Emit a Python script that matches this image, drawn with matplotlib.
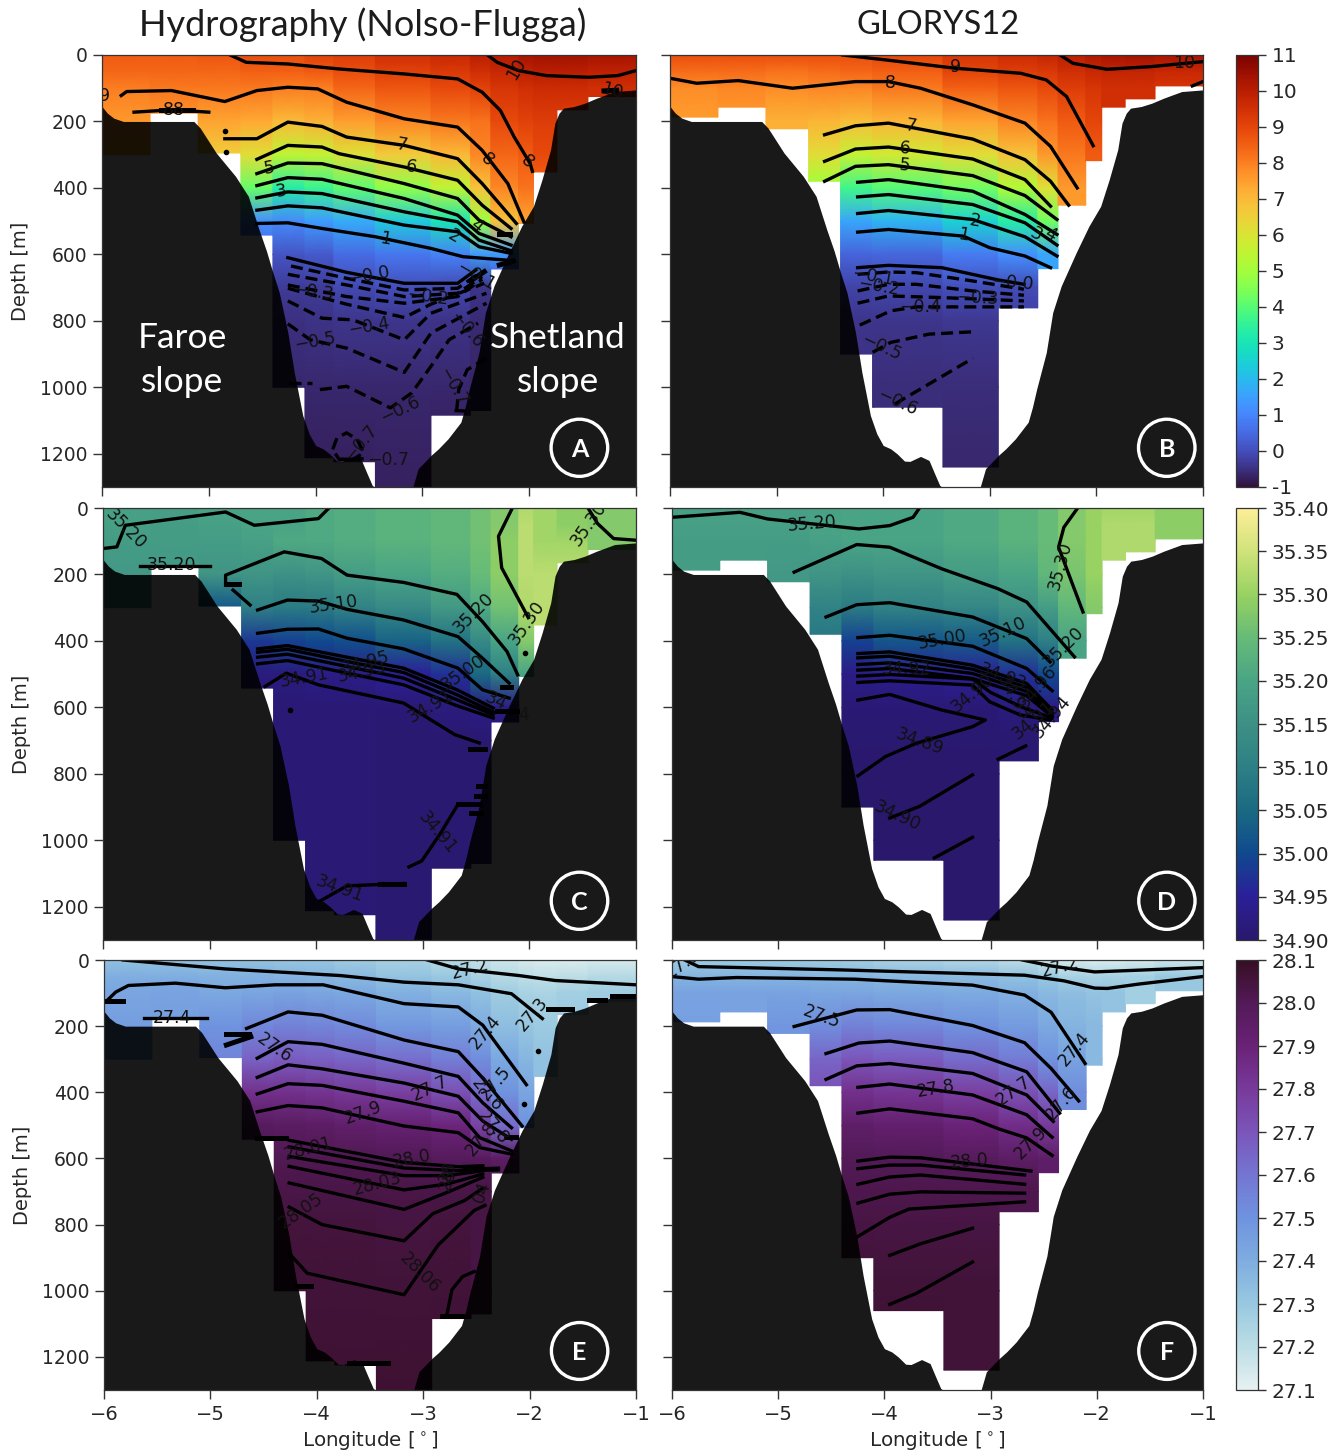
import numpy as np
import matplotlib
matplotlib.use('Agg')
import matplotlib.pyplot as plt
from matplotlib.colors import LinearSegmentedColormap, Normalize
from matplotlib.cm import ScalarMappable
from matplotlib.patches import Ellipse

W, H = 1340, 1454

# depth levels the column tables are read at
levels = [0, 50, 100, 200, 300, 400, 500, 600, 700, 800, 1000, 1300]

# model columns: edges in longitude, bottom depth of each column
hyd_edges = [-6, -5.55, -5.1, -4.7, -4.4, -4.1, -3.83, -3.44, -2.92, -2.55, -2.36, -2.1, -1.96, -1.74, -1.45, -1]
hyd_bottom = [300, 175, 295, 542, 1000, 1212, 1224, 1300, 1084, 1070, 644, 507, 352, 165, 125]
gly_edges = [-6, -5.55, -5.1, -4.7, -4.4, -4.1, -3.44, -2.92, -2.55, -2.36, -2.1, -1.95, -1.73, -1.45, -1]
gly_bottom = [187, 157, 222, 380, 900, 1060, 1240, 761, 643, 452, 318, 157, 132, 93]

# bathymetry
bathy_left_lon = [-6, -5.95, -5.89, -5.8, -5.14, -5.08, -5.0, -4.93, -4.84, -4.75, -4.63, -4.53, -4.46, -4.4, -4.34, -4.26, -4.2,
                  -4.12, -4.06, -4.0, -3.93, -3.87, -3.8, -3.75, -3.65, -3.57, -3.52, -3.47, -3.45]
bathy_left_dep = [155, 175, 190, 200, 200, 220, 260, 295, 330, 365, 425, 525, 590, 655, 715, 835, 955,
                  1085, 1140, 1175, 1185, 1200, 1222, 1223, 1208, 1220, 1258, 1295, 1300]
bathy_right_lon = [-3.09, -3.04, -2.92, -2.85, -2.76, -2.64, -2.6, -2.56, -2.47, -2.41, -2.33, -2.26, -2.19, -2.07, -1.96, -1.88, -1.8,
                   -1.76, -1.72, -1.68, -1.58, -1.48, -1.37, -1.2, -1]
bathy_right_dep = [1300, 1245, 1205, 1185, 1155, 1105, 1060, 1005, 895, 775, 695, 645, 595, 515, 455, 375, 285,
                   205, 175, 160, 155, 145, 130, 110, 105]

# temperature, one row per column, short rows keep the last value
temp_hyd = [
    [8.6, 8.4, 8.0, 7.6, 7.4],
    [8.6, 8.4, 8.1, 7.7, 7.5],
    [8.7, 8.4, 8.1, 7.4, 6.6],
    [8.8, 8.5, 8.1, 7.3, 6.2, 4.2, 1.2, 0.3, -0.2, -0.4, -0.6, -0.7],
    [8.8, 8.5, 8.0, 7.0, 5.5, 3.3, 1.1, 0.1, -0.3, -0.5, -0.65, -0.75],
    [9.1, 8.6, 8.0, 7.2, 5.6, 3.6, 1.4, 0.2, -0.3, -0.45, -0.65, -0.75],
    [9.2, 8.8, 8.4, 7.5, 6.1, 4.1, 1.7, 0.5, -0.1, -0.4, -0.65, -0.75],
    [9.5, 9.1, 8.7, 7.9, 6.6, 4.7, 2.3, 0.7, 0.0, -0.4, -0.65, -0.75],
    [9.7, 9.3, 8.9, 8.1, 7.05, 5.5, 3.0, 0.95, -0.1, -0.45, -0.65, -0.75],
    [10.0, 9.5, 9.1, 8.2, 7.9, 6.8, 4.9, 1.4, -0.4, -0.6, -0.7, -0.75],
    [10.1, 9.7, 9.4, 8.9, 8.4, 7.9, 6.8, 1.4, -0.5, -0.6, -0.7, -0.75],
    [10.3, 9.9, 9.5, 9.1, 8.6, 8.2, 7.4],
    [10.4, 10.0, 9.6, 9.2, 8.9, 8.4],
    [10.4, 10.0, 9.6, 9.2],
    [10.3, 9.9, 9.5],
]
temp_gly = [
    [8.8, 8.3, 7.8, 7.5],
    [8.8, 8.3, 7.9, 7.5],
    [8.8, 8.2, 7.8, 7.2],
    [8.8, 8.3, 7.9, 7.1, 6.2, 4.8],
    [8.8, 8.4, 7.9, 6.9, 5.6, 3.7, 1.6, 0.4, -0.2, -0.4, -0.5, -0.6],
    [9.0, 8.5, 8.1, 7.1, 5.8, 4.0, 1.9, 0.45, -0.15, -0.4, -0.55, -0.65],
    [9.4, 9.0, 8.5, 7.4, 6.2, 4.3, 2.5, 0.8, 0.0, -0.35, -0.55, -0.65],
    [9.6, 9.2, 8.7, 7.9, 6.8, 5.2, 3.3, 1.2, -0.05, -0.3],
    [9.8, 9.3, 8.9, 8.2, 7.6, 6.1, 4.3, 1.6],
    [10.0, 9.5, 9.2, 8.6, 8.1, 7.6],
    [10.2, 9.7, 9.4, 9.0, 8.6],
    [10.3, 9.8, 9.5],
    [10.4, 9.8, 9.5],
    [10.3, 9.7, 9.4],
]
# salinity
salt_hyd = [
    [35.19, 35.19, 35.18, 35.17, 35.17],
    [35.19, 35.18, 35.18, 35.17],
    [35.2, 35.19, 35.18, 35.16, 35.02],
    [35.2, 35.2, 35.19, 35.16, 35.1, 34.98, 34.92, 34.91],
    [35.2, 35.2, 35.21, 35.15, 35.09, 34.99, 34.92, 34.91],
    [35.21, 35.21, 35.21, 35.16, 35.09, 35.0, 34.93, 34.91],
    [35.22, 35.22, 35.22, 35.18, 35.11, 35.01, 34.93, 34.91],
    [35.23, 35.23, 35.23, 35.2, 35.13, 35.04, 34.95, 34.91, 34.905],
    [35.24, 35.24, 35.24, 35.22, 35.17, 35.07, 34.97, 34.92, 34.905],
    [35.26, 35.26, 35.26, 35.25, 35.21, 35.13, 35.05, 34.93, 34.905],
    [35.28, 35.28, 35.29, 35.29, 35.26, 35.2, 35.1, 34.93, 34.905],
    [35.32, 35.33, 35.33, 35.33, 35.32, 35.28, 35.2],
    [35.31, 35.31, 35.31, 35.33, 35.33],
    [35.29, 35.29, 35.31, 35.33],
    [35.28, 35.28],
]
salt_gly = [
    [35.19, 35.19, 35.18, 35.18],
    [35.19, 35.19, 35.18, 35.18],
    [35.19, 35.19, 35.18, 35.17],
    [35.19, 35.2, 35.19, 35.16, 35.11, 35.08],
    [35.2, 35.2, 35.2, 35.15, 35.09, 34.99, 34.93, 34.91, 34.905, 34.9],
    [35.2, 35.2, 35.2, 35.16, 35.11, 35.02, 34.94, 34.91, 34.905, 34.9],
    [35.21, 35.21, 35.21, 35.18, 35.12, 35.03, 34.95, 34.91, 34.905, 34.9],
    [35.23, 35.23, 35.23, 35.2, 35.15, 35.07, 34.97, 34.92, 34.905],
    [35.25, 35.25, 35.25, 35.24, 35.18, 35.1, 35.0, 34.93],
    [35.28, 35.28, 35.28, 35.27, 35.24, 35.2],
    [35.3, 35.3, 35.3, 35.3, 35.28],
    [35.31, 35.32, 35.32],
    [35.31, 35.32],
    [35.29, 35.29],
]
# density
dens_hyd = [
    [27.33, 27.4, 27.43, 27.46],
    [27.33, 27.4, 27.44, 27.46],
    [27.32, 27.39, 27.42, 27.5, 27.55],
    [27.32, 27.39, 27.43, 27.54, 27.66, 27.84, 27.98, 28.02, 28.03],
    [27.31, 27.38, 27.44, 27.56, 27.68, 27.84, 27.97, 28.01, 28.03, 28.05, 28.06, 28.07],
    [27.31, 27.37, 27.43, 27.55, 27.67, 27.83, 27.96, 28.01, 28.03, 28.05, 28.06, 28.07],
    [27.28, 27.36, 27.42, 27.53, 27.65, 27.81, 27.94, 28.01, 28.03, 28.05, 28.06, 28.07],
    [27.26, 27.32, 27.39, 27.48, 27.62, 27.78, 27.92, 28.005, 28.03, 28.045, 28.06, 28.07],
    [27.22, 27.3, 27.36, 27.46, 27.57, 27.72, 27.89, 27.99, 28.03, 28.05, 28.06, 28.07],
    [27.18, 27.26, 27.33, 27.41, 27.52, 27.63, 27.77, 27.98, 28.04],
    [27.16, 27.22, 27.28, 27.34, 27.42, 27.5, 27.63, 27.96, 28.04],
    [27.14, 27.2, 27.26, 27.31, 27.37, 27.43, 27.5],
    [27.13, 27.19, 27.25, 27.29, 27.33],
    [27.13, 27.2, 27.27, 27.3],
    [27.14, 27.22, 27.28],
]
dens_gly = [
    [27.28, 27.38, 27.44, 27.45],
    [27.28, 27.38, 27.44],
    [27.28, 27.38, 27.44, 27.49],
    [27.28, 27.37, 27.43, 27.52, 27.65, 27.72],
    [27.27, 27.37, 27.43, 27.56, 27.7, 27.84, 27.95, 28.0, 28.02, 28.04, 28.06, 28.07],
    [27.25, 27.36, 27.42, 27.54, 27.68, 27.82, 27.93, 28.0, 28.02, 28.04, 28.06, 28.07],
    [27.23, 27.35, 27.41, 27.51, 27.63, 27.78, 27.9, 27.98, 28.02, 28.04, 28.06],
    [27.2, 27.33, 27.39, 27.47, 27.58, 27.72, 27.85, 27.96, 28.02],
    [27.16, 27.3, 27.36, 27.42, 27.5, 27.65, 27.8, 27.95],
    [27.14, 27.26, 27.34, 27.38, 27.44, 27.52],
    [27.13, 27.25, 27.32, 27.36],
    [27.13, 27.26, 27.32],
    [27.14, 27.27],
    [27.16, 27.3],
]

# contour lines (lon, depth)
a_solid = [
    ([-4.8, -4.65, -4.26, -3.78, -3.17, -2.67, -2.44, -2.27, -2.14, -1.99, -1.97], [0, 22, 27, 42, 57, 72, 112, 167, 247, 327, 350]),
    ([-2.39, -2.3, -2.1, -1.84, -1.44, -1.17, -1], [0, 22, 47, 62, 67, 62, 47]),
    ([-5.82, -5.77, -5.35, -4.85, -4.55, -4.26, -3.98, -3.71, -3.17, -2.67, -2.44, -2.2, -2.05], [122, 110, 107, 140, 107, 97, 102, 142, 192, 217, 287, 387, 502]),
    ([-5.7, -5.35, -5.0], [172, 165, 172]),
    ([-4.85, -4.55, -4.26, -3.94, -3.71, -3.17, -2.67, -2.44, -2.12], [252, 252, 202, 215, 247, 272, 312, 387, 507]),
    ([-4.55, -4.26, -3.94, -3.78, -3.17, -2.67, -2.44, -2.17], [314, 272, 277, 297, 337, 377, 452, 522]),
    ([-4.55, -4.26, -3.94, -3.71, -3.17, -2.67, -2.47, -2.17], [357, 325, 327, 345, 387, 432, 497, 547]),
    ([-4.55, -4.26, -3.94, -3.17, -2.67, -2.47, -2.17], [393, 369, 374, 432, 482, 537, 572]),
    ([-4.55, -4.26, -3.94, -3.17, -2.67, -2.47, -2.17], [430, 412, 417, 472, 502, 557, 589]),
    ([-4.55, -4.26, -3.94, -3.17, -2.67, -2.47, -2.17], [467, 454, 460, 512, 532, 577, 597]),
    ([-4.55, -4.26, -3.94, -3.44, -2.92, -2.62, -2.22], [507, 505, 522, 547, 582, 607, 617]),
    ([-4.26, -3.71, -3.17, -2.67, -2.5], [610, 654, 687, 687, 647]),
]
a_thick = [([-1.3, -1.18], [108, 106]), ([-5.45, -5.15], [165, 165]), ([-2.28, -2.15], [632, 620]),
           ([-2.55, -2.42], [680, 652]), ([-2.28, -2.18], [540, 540])]
a_dashed = [
    ([-4.23, -3.71, -3.17, -2.67, -2.47], [635, 672, 707, 702, 657]),
    ([-4.26, -3.71, -3.17, -2.67, -2.44], [660, 692, 727, 717, 667]),
    ([-4.26, -3.71, -3.17, -2.67, -2.44], [692, 727, 747, 727, 675]),
    ([-4.26, -3.71, -3.17, -2.92, -2.42], [702, 750, 790, 750, 687]),
    ([-4.26, -3.94, -3.65, -3.17, -2.92, -2.4], [740, 792, 797, 857, 777, 717]),
    ([-4.26, -4.05, -3.71, -3.17, -2.92, -2.4], [809, 857, 882, 955, 837, 747]),
    ([-3.96, -3.71, -3.3, -3.1, -2.92, -2.75, -2.48], [1007, 997, 1062, 1017, 937, 857, 807]),
    ([-2.68, -2.66, -2.58, -2.4], [1072, 1007, 947, 912]),
    ([-3.84, -3.8, -3.71, -3.61, -3.55, -3.65, -3.78, -3.84], [1187, 1152, 1137, 1157, 1197, 1217, 1217, 1187]),
    ([-4.25, -4.03], [987, 987]),
    ([-3.78, -3.55], [1217, 1215]),
    ([-2.7, -2.55], [1070, 1072]),
]
a_labels = [('10', -2.12, 42, 60), ('10', -1.22, 107, -15), ('88', -5.33, 167, 0), ('9', -5.98, 122, 0),
            ('7', -3.19, 272, -10), ('6', -3.11, 337, -10), ('8', -2.39, 314, -40), ('8', -2.02, 322, -40),
            ('5', -4.43, 339, 10), ('3', -4.32, 409, 10), ('4', -2.49, 515, -40), ('2', -2.7, 547, -30),
            ('1', -3.35, 554, -10), ('−0.0', -3.5, 662, 10), ('−0.3', -4.03, 712, -8), ('−0.2', -2.95, 727, -8),
            ('−0.4', -3.5, 817, 10), ('−0.5', -4.01, 862, 10), ('−0.6', -2.59, 827, -50), ('−0.7', -2.71, 997, -60),
            ('−0.6', -3.21, 1067, 25), ('−0.7', -3.58, 1167, 50), ('−0.7', -3.32, 1219, 0), ('−0.1', -2.5, 667, -30)]

b_solid = [
    ([-6, -5.75, -5.36, -4.85, -4.26, -3.95, -3.65, -3.16, -2.67, -2.43, -2.18], [70, 85, 77, 100, 80, 80, 100, 150, 205, 275, 400]),
    ([-4.38, -3.97, -3.32, -2.71, -2.47, -2.28, -2.03], [0, 15, 40, 55, 75, 125, 273]),
    ([-2.34, -2.22, -1.9, -1.49, -1], [0, 25, 43, 35, 20]),
    ([-1.1, -1], [93, 80]),
    ([-4.55, -4.26, -3.95, -3.16, -2.67, -2.43, -2.26], [240, 213, 205, 253, 315, 380, 452]),
    ([-4.55, -4.26, -3.95, -3.16, -2.67, -2.43], [320, 283, 277, 313, 375, 455]),
    ([-4.55, -4.26, -3.95, -3.16, -2.67, -2.37], [380, 335, 330, 363, 423, 495]),
    ([-4.24, -3.95, -3.16, -2.67, -2.37], [383, 375, 410, 480, 540]),
    ([-4.24, -3.95, -3.16, -2.67, -2.37], [427, 420, 450, 505, 572]),
    ([-4.24, -3.95, -3.16, -2.67, -2.37], [477, 468, 495, 547, 605]),
    ([-4.24, -3.95, -3.25, -3.0, -2.67, -2.43], [533, 525, 545, 580, 605, 640]),
    ([-4.24, -3.95, -3.45, -2.92, -2.68], [640, 633, 640, 677, 690]),
]
b_dashed = [
    ([-4.24, -3.95, -3.69, -3.16, -2.68], [660, 653, 655, 680, 705]),
    ([-4.24, -3.95, -3.69, -3.16, -2.68], [710, 690, 690, 710, 723]),
    ([-4.24, -3.95, -3.45, -2.68], [747, 725, 730, 740]),
    ([-4.22, -3.93, -3.69, -2.68], [813, 770, 758, 758]),
    ([-4.1, -3.93, -3.57, -3.16], [895, 865, 840, 833]),
    ([-3.89, -3.65, -3.16], [1050, 1005, 913]),
]
b_labels = [('9', -3.32, 35, 0), ('10', -1.18, 25, 0), ('8', -3.93, 83, 0), ('7', -3.74, 215, -10), ('6', -3.8, 280, -5),
            ('5', -3.8, 333, -5), ('2', -3.14, 500, -10), ('1', -3.25, 543, -10), ('3', -2.57, 540, -30), ('4', -2.43, 540, -30),
            ('−0.0', -2.79, 685, -5), ('−0.1', -4.1, 667, -10), ('−0.2', -4.04, 697, -10), ('−0.3', -3.12, 733, -3),
            ('−0.4', -3.65, 757, 0), ('−0.5', -4.02, 880, -25), ('−0.6', -3.87, 1045, -25)]

c_solid = [
    ([-6, -5.87, -5.79, -5.32, -4.85, -4.58, -3.98, -3.88], [122, 117, 52, 32, 12, 52, 32, 0]),
    ([-2.16, -2.29, -2.26, -2.01], [0, 85, 180, 330]),
    ([-1.45, -1.36, -1.21, -1], [0, 47, 92, 97]),
    ([-4.85, -4.85, -4.3, -3.95, -3.71, -3.18, -2.68, -2.44, -2.21, -2.11], [232, 202, 132, 152, 202, 224, 260, 342, 432, 502]),
    ([-4.78, -4.62], [247, 292]),
    ([-4.55, -4.27, -3.98, -3.71, -3.18, -2.67, -2.44, -2.19], [307, 277, 280, 305, 337, 387, 452, 527]),
    ([-4.55, -4.27, -3.98, -3.71, -3.18, -2.67, -2.44, -2.19], [377, 365, 364, 392, 424, 482, 547, 572]),
    ([-4.55, -4.27, -3.71, -3.18, -2.68, -2.34], [424, 414, 449, 482, 547, 602]),
    ([-4.55, -4.27, -3.71, -3.18, -2.68, -2.34], [434, 425, 462, 495, 562, 614]),
    ([-4.55, -4.27, -3.71, -3.18, -2.68, -2.34], [449, 440, 477, 512, 577, 622]),
    ([-4.55, -4.27, -3.71, -3.18, -2.68, -2.34], [469, 459, 497, 532, 595, 632]),
    ([-4.48, -4.28, -3.98, -3.18, -2.7, -2.47], [537, 497, 532, 587, 682, 707]),
    ([-2.67, -2.84, -3.01, -3.13], [892, 982, 1062, 1080]),
    ([-3.96, -3.71, -3.18], [1182, 1137, 1130]),
    ([-5.65, -5.0], [174, 174]),
]
c_thick = [([-4.85, -4.72], [228, 228]), ([-2.56, -2.42], [724, 724]), ([-2.67, -2.46], [892, 892]), ([-2.48, -2.42], [837, 837]),
           ([-2.5, -2.42], [867, 867]), ([-2.55, -2.45], [917, 917]), ([-3.4, -3.18], [1130, 1130]),
           ([-2.26, -2.17], [540, 540]), ([-2.3, -2.12], [612, 612])]
c_labels = [('35.20', -5.79, 62, -45), ('35.20', -5.36, 172, 0), ('35.10', -3.84, 292, 8), ('35.20', -2.52, 317, 45),
            ('35.30', -2.02, 347, 55), ('35.30', -1.44, 47, 55), ('35.00', -2.62, 497, 35), ('34.95', -3.54, 467, 15),
            ('34.93', -3.57, 492, 12), ('34.91', -4.11, 512, 10), ('34.91', -2.93, 597, 30), ('34.91', -2.86, 977, -50),
            ('34.91', -3.78, 1147, -20), ('34', -2.32, 582, -25), ('4', -2.05, 622, 0)]

d_solid = [
    ([-6, -5.36, -5.1, -4.24, -3.95, -3.73, -3.67], [28, 13, 33, 63, 53, 28, 0]),
    ([-2.18, -2.31, -2.36, -2.13], [0, 58, 118, 313]),
    ([-4.85, -4.26, -3.95, -3.46, -2.93, -2.66, -2.21], [193, 110, 118, 183, 243, 283, 448]),
    ([-4.55, -4.26, -3.95, -3.17, -2.66, -2.44], [328, 291, 285, 328, 393, 463]),
    ([-4.25, -3.95, -3.17, -2.66, -2.42], [390, 383, 416, 483, 550]),
    ([-4.25, -3.95, -3.17, -2.66, -2.42], [438, 433, 473, 528, 608]),
    ([-4.25, -3.95, -3.17, -2.66, -2.42], [451, 446, 485, 540, 616]),
    ([-4.25, -3.95, -3.17, -2.66, -2.42], [471, 466, 498, 552, 622]),
    ([-4.25, -3.95, -3.17, -2.66, -2.42], [488, 483, 513, 565, 628]),
    ([-4.25, -3.95, -3.17, -3.0, -2.7, -2.42], [506, 501, 515, 555, 600, 632]),
    ([-4.25, -3.95, -3.17, -3.01, -2.72, -2.44], [525, 520, 533, 583, 623, 638]),
    ([-4.25, -3.95, -3.46, -3.05, -3.17, -3.7, -3.99, -4.25], [578, 561, 608, 638, 658, 708, 748, 806]),
    ([-3.95, -3.67, -3.17], [933, 898, 803]),
    ([-3.53, -3.17], [1053, 991]),
    ([-2.93, -2.67], [756, 716]),
]
d_labels = [('35.20', -4.68, 48, 5), ('35.30', -2.34, 173, 75), ('35.10', -2.88, 373, 25), ('35.00', -3.46, 398, 10),
            ('35.20', -2.31, 418, 45), ('34.92', -3.79, 483, 0), ('34.96', -2.56, 538, 50), ('34.93', -2.89, 508, -20),
            ('34.89', -3.67, 703, -20), ('34.90', -3.88, 928, -25), ('34.90', -3.17, 558, 40), ('34.91', -2.6, 638, 40),
            ('34.93', -2.79, 573, -60), ('34.94', -2.42, 630, 50)]

e_solid = [
    ([-5.82, -4.86, -3.78, -3.18, -2.67, -2.17, -1.88], [0, 27, 47, 67, 75, 102, 177]),
    ([-2.96, -2.67, -2.1, -1.76, -1], [0, 27, 47, 62, 75]),
    ([-5.97, -5.89, -5.77, -5.33, -4.86, -4.39, -3.94, -3.18, -2.67, -2.44, -2.03], [122, 97, 77, 70, 84, 75, 75, 132, 142, 197, 377]),
    ([-5.62, -5.03], [175, 175]),
    ([-4.66, -4.27, -3.95, -3.18, -2.67, -2.44, -2.07], [207, 157, 167, 242, 277, 357, 502]),
    ([-4.56, -4.27, -3.95, -3.18, -2.67, -2.44, -2.17], [297, 247, 255, 312, 352, 432, 507]),
    ([-4.56, -4.27, -3.95, -3.18, -2.67, -2.44, -2.17], [355, 317, 329, 372, 412, 487, 542]),
    ([-4.56, -4.27, -3.95, -3.18, -2.67, -2.47, -2.17], [405, 374, 379, 427, 462, 537, 577]),
    ([-4.56, -4.27, -3.95, -3.18, -2.67, -2.47, -2.17], [459, 440, 447, 502, 522, 567, 587]),
    ([-4.26, -3.18, -2.67, -2.44], [545, 612, 625, 622]),
    ([-4.26, -3.18, -2.67, -2.44], [565, 629, 637, 627]),
    ([-4.26, -3.18, -2.77, -2.44], [594, 652, 652, 637]),
    ([-4.26, -3.18, -2.77, -2.44], [624, 695, 677, 647]),
    ([-4.26, -3.18, -2.77, -2.44], [674, 754, 702, 657]),
    ([-4.26, -3.95, -3.18, -2.91, -2.61, -2.44], [747, 800, 849, 767, 727, 690]),
    ([-4.26, -4.09, -3.18, -2.86, -2.52, -2.42], [887, 947, 1012, 862, 757, 742]),
    ([-2.78, -2.73, -2.63, -2.52], [1077, 997, 957, 942]),
]
e_thick = [([-5.99, -5.82], [125, 125]), ([-4.85, -4.64], [225, 225]), ([-4.85, -4.62], [257, 232]), ([-2.82, -2.64], [1077, 1077]),
           ([-4.56, -4.29], [537, 537]), ([-4.19, -4.05], [987, 987]), ([-3.7, -3.33], [1219, 1219]), ([-1.83, -1.6], [147, 147]),
           ([-1.44, -1.29], [122, 122]), ([-1.23, -1.02], [109, 109]), ([-2.22, -2.13], [535, 535]), ([-2.6, -2.3], [635, 632])]
e_labels = [('27.2', -2.56, 27, 15), ('27.3', -1.97, 162, 50), ('27.4', -5.36, 174, 0), ('27.4', -2.42, 219, 50),
            ('27.5', -2.32, 372, 50), ('27.6', -4.4, 267, -35), ('27.7', -2.94, 387, 25), ('27.9', -3.56, 462, 20),
            ('27.8', -2.34, 507, -50), ('27.6', -2.4, 407, -50), ('27.8', -2.45, 542, 50), ('28.01', -4.08, 572, 15),
            ('28.0', -3.11, 602, 10), ('28.03', -3.43, 677, 15), ('28.05', -4.15, 757, 35), ('28.06', -3.03, 947, -45),
            ('28', -2.77, 640, 70), ('28', -2.77, 665, 70), ('04', -2.45, 700, 70)]

f_solid = [
    ([-2.7, -2.43, -2.02, -1], [0, 18, 36, 23]),
    ([-5.88, -5.75, -4.4, -2.68, -2.31, -2.02, -1.9, -1.61, -1], [0, 20, 30, 46, 63, 85, 86, 73, 50]),
    ([-6, -5.75, -5.39, -4.28, -3.17, -2.68, -2.43, -2.11], [50, 58, 53, 58, 76, 106, 158, 313]),
    ([-4.85, -4.26, -3.95, -3.17, -2.68, -2.43, -2.17], [201, 151, 150, 198, 250, 328, 426]),
    ([-4.55, -4.24, -3.95, -3.17, -2.66, -2.35], [283, 251, 245, 280, 338, 463]),
    ([-4.55, -4.26, -3.95, -3.17, -2.66, -2.41], [361, 320, 313, 343, 408, 488]),
    ([-4.25, -3.95, -3.17, -2.66, -2.42], [385, 375, 408, 468, 536]),
    ([-4.25, -3.95, -3.17, -2.92, -2.66, -2.42], [463, 450, 480, 511, 538, 591]),
    ([-4.25, -3.95, -3.66, -2.62], [608, 596, 598, 638]),
    ([-4.25, -3.95, -3.66, -2.68], [631, 620, 620, 650]),
    ([-4.25, -3.95, -3.66, -2.68], [678, 656, 650, 678]),
    ([-4.25, -3.95, -3.66, -2.68], [735, 708, 701, 705]),
    ([-4.25, -3.95, -3.77, -2.68], [836, 778, 753, 731]),
    ([-3.95, -3.66, -3.17], [893, 858, 811]),
    ([-3.95, -3.7, -3.17], [1041, 1008, 913]),
]
f_labels = [('27.3', -5.9, 13, 35), ('27.2', -2.35, 23, 15), ('27.5', -4.59, 173, -20), ('27.4', -2.21, 268, 50),
            ('27.8', -3.52, 388, 10), ('27.7', -2.78, 395, 35), ('27.6', -2.33, 433, 50), ('27.9', -2.62, 553, 45),
            ('28.0', -3.2, 610, 5)]

# small blobs left by the contouring
a_dots = ([-4.85, -4.84], [230, 292])
c_dots = ([-4.25, -2.04, -2.17], [607, 437, 612])
e_dots = ([-1.92, -2.05], [274, 435])

# colour maps
haline = LinearSegmentedColormap.from_list('haline', ['#2a186c', '#2b1f99', '#10498f', '#1a6a82', '#2e7f85', '#3d9085',
                                                      '#49a485', '#66bb78', '#97d262', '#cfe279', '#fdee99'])
dense = LinearSegmentedColormap.from_list('dense', ['#e6f1f1', '#bcdde5', '#98c8e0', '#7eade0', '#6f93df', '#7475d2',
                                                    '#7b55ba', '#783a9b', '#6a2277', '#531a58', '#360e24'])


def rect(x0, y0, x1, y1):
    return [x0 / W, 1 - y1 / H, (x1 - x0) / W, (y1 - y0) / H]


def columns(ax, edges, bottoms, table, cmap, norm):
    for i, row in enumerate(table):
        row = row + [row[-1]] * (len(levels) - len(row))
        ys = [z for z in levels if z < bottoms[i]] + [bottoms[i]]
        vals = np.interp(ys, levels, row)
        X, Y = np.meshgrid([edges[i], edges[i + 1]], ys)
        C = np.column_stack([vals, vals])
        ax.pcolormesh(X, Y, C, shading='gouraud', cmap=cmap, norm=norm, zorder=1, antialiased=True)


def panel(box, edges, bottoms, table, cmap, norm, solid, dashed, labels, letter, circle_x, thick=(), dots=None, left=False, bottom=False):
    ax = fig.add_axes(rect(*box))
    columns(ax, edges, bottoms, table, cmap, norm)
    ax.fill_between(bathy_left_lon, bathy_left_dep, 1300, color='k', alpha=0.9, lw=0, zorder=3)
    ax.fill_between(bathy_right_lon, bathy_right_dep, 1300, color='k', alpha=0.9, lw=0, zorder=3)
    for lon, dep in solid:
        ax.plot(lon, dep, color='k', lw=2.4, zorder=4)
    for lon, dep in thick:
        ax.plot(lon, dep, color='k', lw=3.6, zorder=4)
    for lon, dep in dashed:
        ax.plot(lon, dep, color='k', lw=2.4, ls=(0, (3.6, 1.8)), zorder=4)
    if dots:
        ax.plot(dots[0], dots[1], 'o', color='k', ms=3, zorder=4)
    for txt, lon, dep, rot in labels:
        ax.text(lon, dep, txt, rotation=rot, ha='center', va='center', fontsize=12.5, color='#111111',
                rotation_mode='anchor', zorder=5, clip_on=True)
    ax.add_patch(Ellipse((circle_x, 1182), 0.53, 172, fill=False, ec='white', lw=2.4, zorder=6))
    ax.text(circle_x, 1186, letter, color='white', fontsize=18, family='Lato', weight='bold', ha='center', va='center', zorder=6)
    ax.set_xlim(-6, -1)
    ax.set_ylim(1300, 0)
    ax.set_xticks([-6, -5, -4, -3, -2, -1])
    ax.set_yticks([0, 200, 400, 600, 800, 1000, 1200])
    ax.tick_params(length=6.5, width=1, color='#333333', labelsize=13.5, labelcolor='#262626',
                   labelleft=left, labelbottom=bottom, pad=4)
    ax.tick_params(axis='x', labelsize=14)
    for s in ax.spines.values():
        s.set_color('#333333')
        s.set_linewidth(0.9)
        s.set_zorder(7)
    if left:
        ax.set_ylabel('Depth [m]', fontsize=14, color='#262626', labelpad=7)
    if bottom:
        ax.set_xlabel(r'Longitude [$^\circ$]', fontsize=14.3, color='#262626', labelpad=4)
    return ax


def cbar(box, cmap, norm, ticks, fmt):
    cax = fig.add_axes(rect(*box))
    cb = fig.colorbar(ScalarMappable(norm=norm, cmap=cmap), cax=cax, ticks=ticks, format=fmt)
    cb.ax.tick_params(length=6, width=1, color='#333333', labelsize=14.5, labelcolor='#262626', pad=4)
    cb.outline.set_edgecolor('#333333')
    cb.outline.set_linewidth(0.9)


fig = plt.figure(figsize=(W / 100, H / 100), dpi=100)

t_norm = Normalize(-1, 11)
s_norm = Normalize(34.9, 35.4)
d_norm = Normalize(27.1, 28.1)

ax_a = panel((102, 55, 636, 487), hyd_edges, hyd_bottom, temp_hyd, 'turbo', t_norm, a_solid, a_dashed, a_labels, 'A', -1.53, a_thick, a_dots, left=True)
panel((670, 55, 1203, 487), gly_edges, gly_bottom, temp_gly, 'turbo', t_norm, b_solid, b_dashed, b_labels, 'B', -1.34)
panel((103, 508, 636, 940), hyd_edges, hyd_bottom, salt_hyd, haline, s_norm, c_solid, [], c_labels, 'C', -1.53, c_thick, c_dots, left=True)
panel((672, 508, 1203, 940), gly_edges, gly_bottom, salt_gly, haline, s_norm, d_solid, [], d_labels, 'D', -1.34)
panel((104, 960, 636, 1390), hyd_edges, hyd_bottom, dens_hyd, dense, d_norm, e_solid, [], e_labels, 'E', -1.53, e_thick, e_dots, left=True, bottom=True)
panel((672, 960, 1203, 1390), gly_edges, gly_bottom, dens_gly, dense, d_norm, f_solid, [], f_labels, 'F', -1.34, bottom=True)

cbar((1236, 55, 1258, 487), 'turbo', t_norm, list(range(-1, 12)), '%d')
cbar((1236, 508, 1258, 940), haline, s_norm, [34.9, 34.95, 35.0, 35.05, 35.1, 35.15, 35.2, 35.25, 35.3, 35.35, 35.4], '%.2f')
cbar((1236, 960, 1258, 1390), dense, d_norm, [27.1, 27.2, 27.3, 27.4, 27.5, 27.6, 27.7, 27.8, 27.9, 28.0, 28.1], '%.1f')

fig.text(363 / W, 1 - 25 / H, 'Hydrography (Nolso-Flugga)', family='Lato', fontsize=26, color='#1c1c1c', ha='center', va='center')
fig.text(938 / W, 1 - 25 / H, 'GLORYS12', family='Lato', fontsize=23.5, color='#1c1c1c', ha='center', va='center')
ax_a.text(-5.25, 918, 'Faroe\nslope', color='white', family='Lato', fontsize=25.5, ha='center', va='center', linespacing=1.45, zorder=6)
ax_a.text(-1.73, 918, 'Shetland\nslope', color='white', family='Lato', fontsize=25.5, ha='center', va='center', linespacing=1.45, zorder=6)

fig.savefig('out.png', dpi=100)
